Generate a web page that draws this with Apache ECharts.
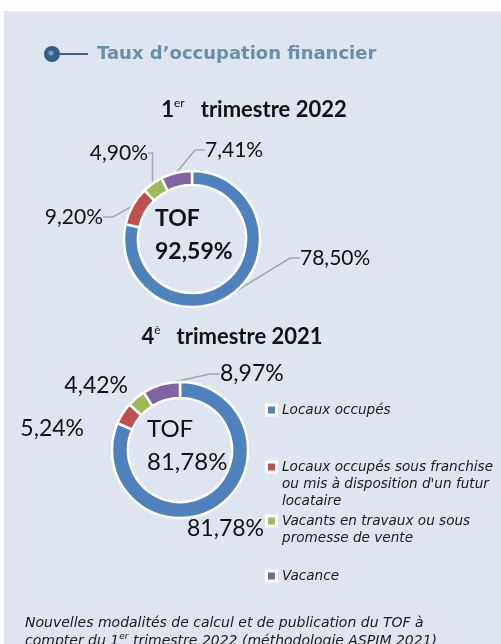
<!DOCTYPE html>
<html>
<head>
<meta charset="utf-8">
<script src="https://cdn.jsdelivr.net/npm/echarts@6/dist/echarts.min.js"></script>
<style>
  html, body { margin: 0; padding: 0; background: #ffffff; }
  #chart { width: 501px; height: 644px; }
</style>
</head>
<body>
<div id="chart"></div>
<script>
// catégories (ordre des secteurs, sens horaire depuis le haut)
var categories = [
  'Locaux occupés',
  'Locaux occupés sous franchise ou mis à disposition d\'un futur locataire',
  'Vacants en travaux ou sous promesse de vente',
  'Vacance'
];
// libellés de légende avec retours à la ligne
var legendLines = [
  ['Locaux occupés'],
  ['Locaux occupés sous franchise', 'ou mis à disposition d\'un futur', 'locataire'],
  ['Vacants en travaux ou sous', 'promesse de vente'],
  ['Vacance']
];
var valuesT1_2022 = [78.50, 9.20, 4.90, 7.41];
var valuesT4_2021 = [81.78, 5.24, 4.42, 8.97];
var tofValues = [92.59, 81.78];

var colors = ['#4f81bd', '#c0504d', '#9bbb59', '#8064a2'];
var panelColor = '#dee5f0';

// mise en page
var center1 = [192, 239];
var center2 = [180, 450];
// position des étiquettes par rapport au centre du donut (bord de la boîte)
var labelOff1 = [[103, 19], [-84, -22], [-39, -86], [8, -89]];
var labelOff2 = [[2, 79], [-91, -21], [-47, -64], [35, -76]];
var lineShow1 = [true, true, true, true];
var lineShow2 = [false, false, false, true];
var legendTops = [401.5, 458.5, 512.5, 567.5];

function fmt(v) {
  return v.toFixed(2).replace('.', ',') + '%';
}

function makePie(center, radius, values, offsets, lineShow, fontSize) {
  return {
    type: 'pie',
    center: center,
    radius: radius,
    startAngle: 90,
    clockwise: true,
    avoidLabelOverlap: false,
    silent: true,
    itemStyle: { borderColor: '#ffffff', borderWidth: 2.5 },
    label: {
      show: true,
      position: 'outside',
      alignTo: 'none',
      formatter: function (p) { return fmt(p.value); },
      fontFamily: 'Lato',
      fontSize: fontSize,
      color: '#111111',
      padding: [0, 5]
    },
    labelLine: {
      show: true,
      length: 10,
      length2: 10,
      lineStyle: { color: '#a6a6a6', width: 1.5 }
    },
    labelLayout: function (p) {
      var o = offsets[p.dataIndex];
      return {
        x: center[0] + o[0],
        y: center[1] + o[1],
        align: o[0] > 0 ? 'left' : 'right',
        verticalAlign: 'middle'
      };
    },
    data: values.map(function (v, i) {
      return { name: categories[i], value: v, labelLine: { show: lineShow[i] } };
    })
  };
}

// légendes : une par élément pour reproduire l'espacement
var legendRich = {
  sp: { width: 7, lineHeight: 17 },
  ind: { width: 14, lineHeight: 17 }
};
colors.forEach(function (c, i) {
  legendRich['m' + i] = {
    width: 7, height: 7, lineHeight: 17,
    backgroundColor: c, borderColor: '#ffffff', borderWidth: 3
  };
});
var legends = categories.map(function (name, i) {
  return {
    data: [name],
    left: 262,
    top: legendTops[i],
    padding: 0,
    orient: 'vertical',
    itemWidth: 0,
    itemHeight: 0,
    selectedMode: false,
    formatter: function () {
      return legendLines[i].map(function (l, k) {
        return (k === 0 ? '{m' + i + '|}{sp|}' : '{ind|}') + l;
      }).join('\n');
    },
    textStyle: {
      fontFamily: 'DejaVu Sans',
      fontStyle: 'italic',
      fontSize: 13.6,
      lineHeight: 17,
      color: '#1a1a1a',
      rich: legendRich
    }
  };
});

var supRich = function (size, weight) {
  return {
    n: { fontFamily: 'Lato', fontSize: size, fontWeight: weight, fill: '#111', lineHeight: 26 },
    s: { fontFamily: 'Lato', fontSize: 12, fontWeight: 'normal', fill: '#111', lineHeight: 12, verticalAlign: 'top' },
    g: { width: 16, lineHeight: 26 }
  };
};

var chart = echarts.init(document.getElementById('chart'));
chart.setOption({
  animation: false,
  color: colors,
  backgroundColor: '#ffffff',
  graphic: [
    { type: 'rect', z: -10, shape: { x: 4, y: 11, width: 497, height: 633 }, style: { fill: panelColor } },
    // pastille du titre
    { type: 'line', shape: { x1: 58, y1: 54, x2: 88, y2: 54 }, style: { stroke: '#3d6290', lineWidth: 2 } },
    { type: 'circle', shape: { cx: 52, cy: 54, r: 8 }, style: { fill: '#385d8a' } },
    { type: 'circle', shape: { cx: 51, cy: 53, r: 2.5 }, style: { fill: '#7a9cbc' } },
    { type: 'text', x: 97, y: 54, style: {
        text: 'Taux d\u2019occupation financier', fontFamily: 'DejaVu Sans', fontSize: 18,
        fontWeight: 'bold', fill: '#6890aa', verticalAlign: 'middle', align: 'left' } },
    // titres des trimestres
    { type: 'text', x: 254, y: 110, style: {
        text: '{n|1}{s|er}{g|}{n|trimestre 2022}', align: 'center', verticalAlign: 'middle',
        rich: supRich(22, 'bold') } },
    { type: 'text', x: 232, y: 337, style: {
        text: '{n|4}{s|è}{g|}{n|trimestre 2021}', align: 'center', verticalAlign: 'middle',
        rich: supRich(22, 'bold') } },
    // textes centraux
    { type: 'text', x: 155, y: 235, style: {
        text: 'TOF\n' + fmt(tofValues[0]), fontFamily: 'Lato', fontSize: 23, fontWeight: 'bold',
        lineHeight: 33, fill: '#111', align: 'left', verticalAlign: 'middle' } },
    { type: 'text', x: 147, y: 446, style: {
        text: 'TOF\n' + fmt(tofValues[1]), fontFamily: 'Lato', fontSize: 24, fontWeight: 'normal',
        lineHeight: 33, fill: '#111', align: 'left', verticalAlign: 'middle' } },
    // note de bas de page
    { type: 'text', x: 25, y: 614, style: {
        text: '{t|Nouvelles modalités de calcul et de publication du TOF à}\n{t|compter du 1}{u|er}{t| trimestre 2022 (méthodologie ASPIM 2021)}',
        rich: {
          t: { fontFamily: 'DejaVu Sans', fontStyle: 'italic', fontSize: 14, lineHeight: 18, fill: '#1a1a1a' },
          u: { fontFamily: 'DejaVu Sans', fontStyle: 'italic', fontSize: 9, lineHeight: 12, fill: '#1a1a1a', verticalAlign: 'top' }
        },
        align: 'left', verticalAlign: 'top' } }
  ],
  legend: legends,
  series: [
    makePie(center1, [54, 68], valuesT1_2022, labelOff1, lineShow1, 21),
    makePie(center2, [52, 68], valuesT4_2021, labelOff2, lineShow2, 23)
  ]
});
</script>
</body>
</html>
